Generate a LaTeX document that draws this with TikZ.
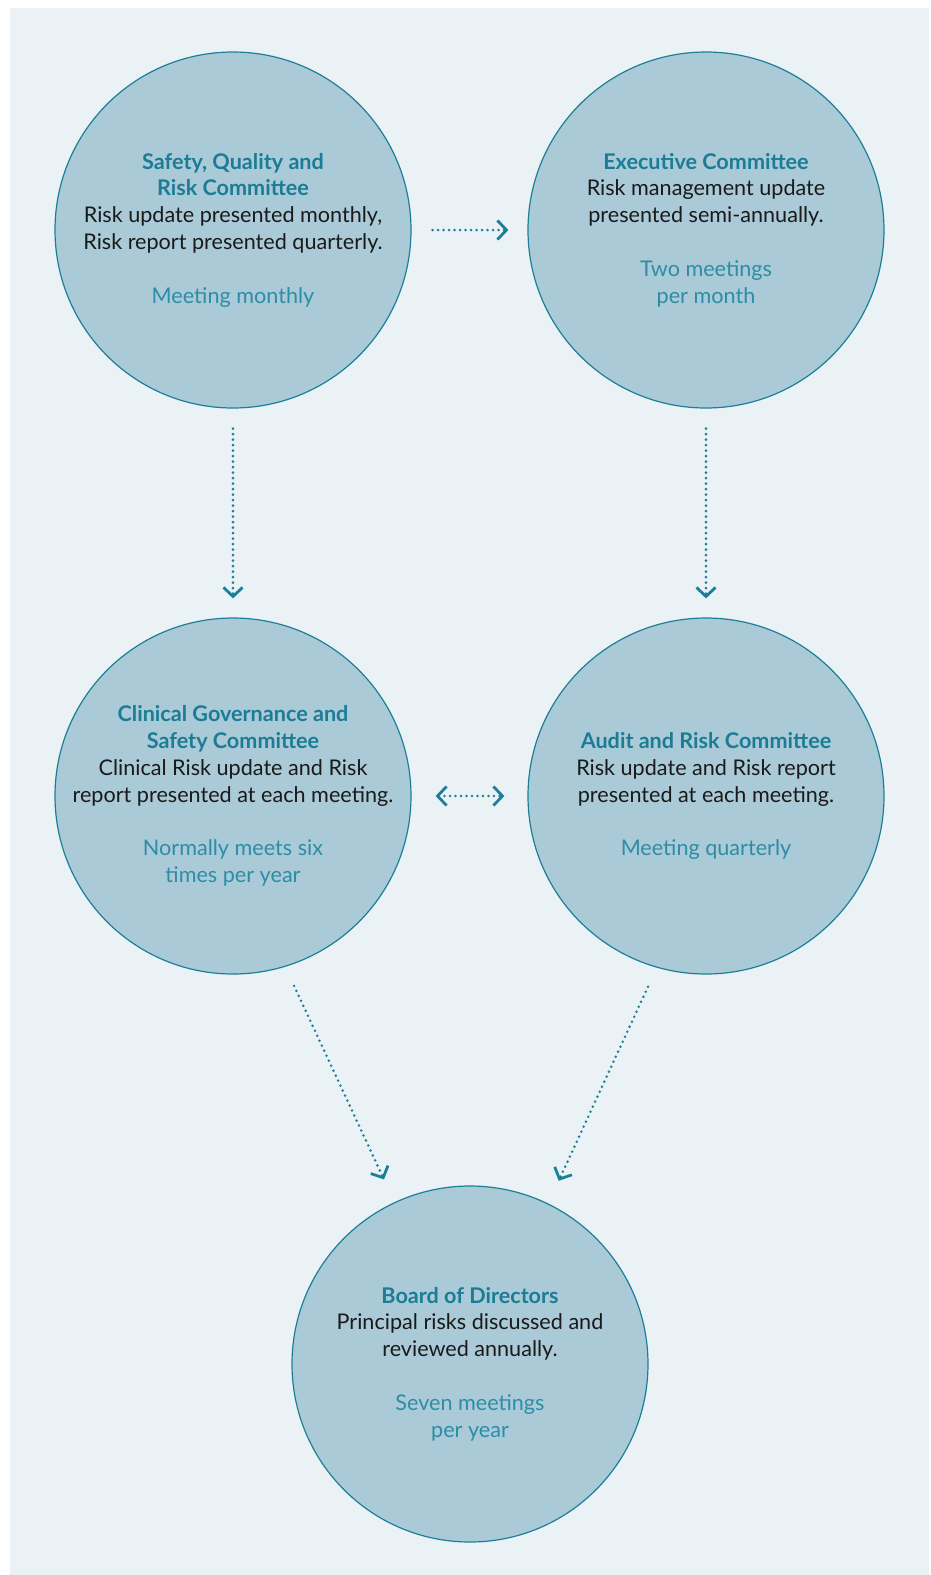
\documentclass[tikz,border=0pt]{standalone}
\usepackage{fontspec}
\setmainfont{Lato}
\usetikzlibrary{arrows.meta}
\definecolor{bgcol}{HTML}{EAF2F6}
\definecolor{circfill}{HTML}{AACAD8}
\definecolor{strokecol}{HTML}{1D7F97}
\definecolor{titlecol}{HTML}{1B7D95}
\definecolor{meetcol}{HTML}{2D8DA6}
\definecolor{bodycol}{HTML}{1A1A1A}
\newcommand{\ctitle}[1]{{\color{titlecol}\bfseries #1}}
\newcommand{\cmeet}[1]{{\color{meetcol}#1}}
\tikzset{barb/.tip={Straight Barb[length=9pt,width=19pt,line width=2.8pt]}}
\begin{document}
\begin{tikzpicture}[x=1pt,y=-1pt,
  circ/.style={circle, draw=strokecol, fill=circfill, line width=1.2pt,
    minimum size=356pt, inner sep=0pt},
  txt/.style={align=center, text=bodycol, inner sep=0pt,
    font=\fontsize{21.6}{26.8}\selectfont},
  conn/.style={strokecol, line width=2.8pt, line cap=round,
    dash pattern=on 0pt off 5.5pt}
]
\useasboundingbox (0,0) rectangle (930,1575);
\fill[bgcol] (10,8) rectangle (929,1575);

\node[circ] (sq) at (233,230) {};
\node[circ] (ex) at (706,230) {};
\node[circ] (cg) at (233,796) {};
\node[circ] (ar) at (706,796) {};
\node[circ] (bd) at (470,1364) {};

\node[txt] (sqt) at (sq.center) {\ctitle{Safety, Quality and}\\ \ctitle{Risk Committee}\\
  Risk update presented monthly,\\ Risk report presented quarterly.\\[26.8pt]
  \cmeet{Meeting monthly}};
\node[txt] (ext) at (ex.center) {\ctitle{Executive Committee}\\ Risk management update\\
  presented semi-annually.\\[26.8pt] \cmeet{Two meetings}\\ \cmeet{per month}};
\node[txt] (cgt) at (cg.center) {\ctitle{Clinical Governance and}\\ \ctitle{Safety Committee}\\
  Clinical Risk update and Risk\\ report presented at each meeting.\\[26.8pt]
  \cmeet{Normally meets six}\\ \cmeet{times per year}};
\node[txt] (art) at (ar.center) {\ctitle{Audit and Risk Committee}\\ Risk update and Risk report\\
  presented at each meeting.\\[26.8pt] \cmeet{Meeting quarterly}};
\node[txt] (bdt) at (bd.center) {\ctitle{Board of Directors}\\ Principal risks discussed and\\
  reviewed annually.\\[26.8pt] \cmeet{Seven meetings}\\ \cmeet{per year}};

\draw[conn, -barb, shorten <=21pt, shorten >=19pt] (sq.east) -- (ex.west);
\draw[conn, -barb, shorten <=20pt, shorten >=19pt] (sq.south) -- (cg.north);
\draw[conn, -barb, shorten <=20pt, shorten >=19pt] (ex.south) -- (ar.north);
\draw[conn, barb-barb, shorten <=24pt, shorten >=23pt] (cg.east) -- (ar.west);
\draw[conn, -barb, shorten <=21pt, shorten >=25pt] (cg.-73.4) -- (bd.115.7);
\draw[conn, -barb, shorten <=21pt, shorten >=25pt] (ar.-106.1) -- (bd.64.3);
\end{tikzpicture}
\end{document}
